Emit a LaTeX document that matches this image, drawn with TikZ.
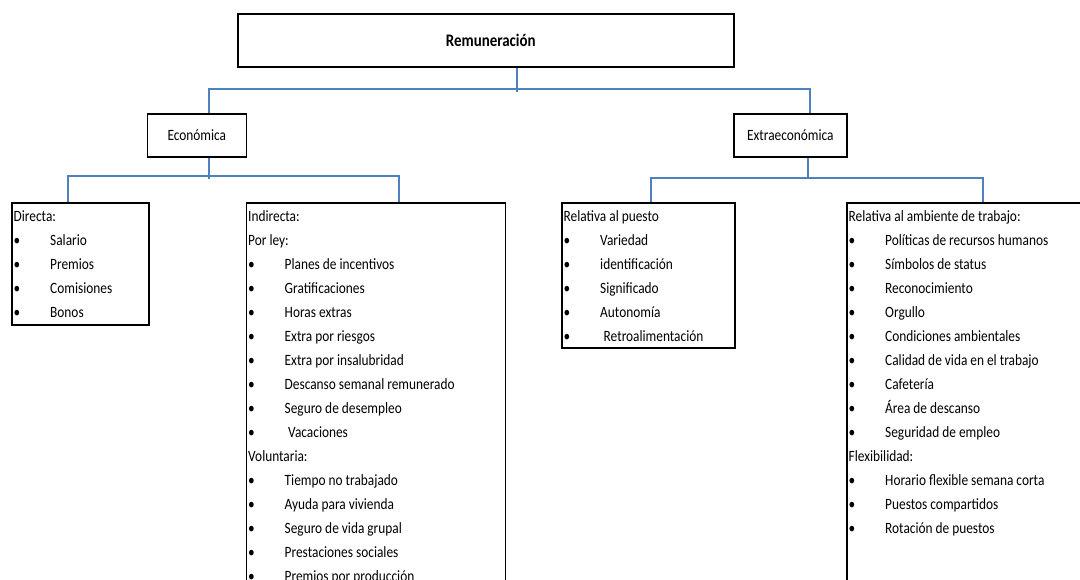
\documentclass[tikz,border=0pt]{standalone}
\usepackage{fontspec}
\setmainfont{Carlito}[FakeStretch=0.85]
\definecolor{linkblue}{RGB}{79,129,189}
\tikzset{
  box/.style={draw, line width=1.6pt, anchor=north west, inner sep=0pt},
  link/.style={draw=linkblue, line width=2pt},
  entry/.style={anchor=base west, inner sep=0pt},
}
% one box's lines: h/ = heading, b/ = bullet
\newcommand\boxlines[2]{%
  \foreach \kind/\txt [count=\i from 0] in {#2} {
    \if\kind b
      \node[entry] (#1-d\i) at ([shift={(2.5,19.5+24*\i)}]#1.north west) {•};
      \node[entry] (#1-t\i) at ([shift={(39,19.5+24*\i)}]#1.north west) {\txt};
    \else
      \node[entry] (#1-t\i) at ([shift={(2.5,19.5+24*\i)}]#1.north west) {\txt};
    \fi
  }}
\begin{document}
\begin{tikzpicture}[x=1pt, y=-1pt, font=\fontsize{15.7}{18}\selectfont]
  \useasboundingbox (0,0) rectangle (1080,579);
  \clip (0,0) rectangle (1080,579);
  \node[box, minimum width=496pt, minimum height=53pt] (rem) at (237,13) {};
  \node[font=\fontsize{17.6}{20}\selectfont\bfseries] (remtxt) at ([xshift=5pt]rem.center) {Remuneración};
  \node[box, minimum width=99pt, minimum height=43pt] (eco) at (146.5,113) {Económica};
  \node[box, minimum width=113pt, minimum height=43pt] (ext) at (733,113) {Extraeconómica};
  \node[box, minimum width=137pt, minimum height=122pt] (dir) at (11,202) {};
  \node[box, minimum width=259pt, minimum height=420pt] (ind) at (245.5,202) {};
  \node[box, minimum width=173pt, minimum height=145pt] (pue) at (561,202) {};
  \node[box, minimum width=260pt, minimum height=420pt] (amb) at (846,202) {};
  % First level
  \coordinate (busL) at (208.5,89);
  \coordinate (busR) at (810,89);
  \coordinate (tapT) at (517,92);
  \draw[link] (rem.south -| tapT) -- (tapT);
  \draw[link] (eco.north -| busL) |- (busR) -- (busR |- ext.north);
  % Under Económica
  \coordinate (ecoL) at (67.5,176);
  \coordinate (ecoR) at (398.5,176);
  \coordinate (ecoT) at (208.5,179);
  \draw[link] (eco.south -| ecoT) -- (ecoT);
  \draw[link] (dir.north -| ecoL) |- (ecoR) -- (ecoR |- ind.north);
  % Under Extraeconómica
  \coordinate (extL) at (651,177.5);
  \coordinate (extR) at (983,177.5);
  \coordinate (extT) at (808,177.5);
  \draw[link] (ext.south -| extT) -- (extT);
  \draw[link] (pue.north -| extL) |- (extR) -- (extR |- amb.north);
  % Lists
  \boxlines{dir}{h/Directa:, b/Salario, b/Premios, b/Comisiones, b/Bonos}
  \boxlines{ind}{h/Indirecta:, h/Por ley:, b/Planes de incentivos, b/Gratificaciones,
    b/Horas extras, b/Extra por riesgos, b/Extra por insalubridad,
    b/Descanso semanal remunerado, b/Seguro de desempleo, b/\hspace{3.5pt}Vacaciones,
    h/Voluntaria:, b/Tiempo no trabajado, b/Ayuda para vivienda,
    b/Seguro de vida grupal, b/Prestaciones sociales, b/Premios por producción}
  \boxlines{pue}{h/Relativa al puesto, b/Variedad, b/identificación, b/Significado,
    b/Autonomía, b/\hspace{3.5pt}Retroalimentación}
  \boxlines{amb}{h/Relativa al ambiente de trabajo:, b/Políticas de recursos humanos,
    b/Símbolos de status, b/Reconocimiento, b/Orgullo, b/Condiciones ambientales,
    b/Calidad de vida en el trabajo, b/Cafetería, b/Área de descanso,
    b/Seguridad de empleo, h/Flexibilidad:, b/Horario flexible semana corta,
    b/Puestos compartidos, b/Rotación de puestos}
\end{tikzpicture}
\end{document}
